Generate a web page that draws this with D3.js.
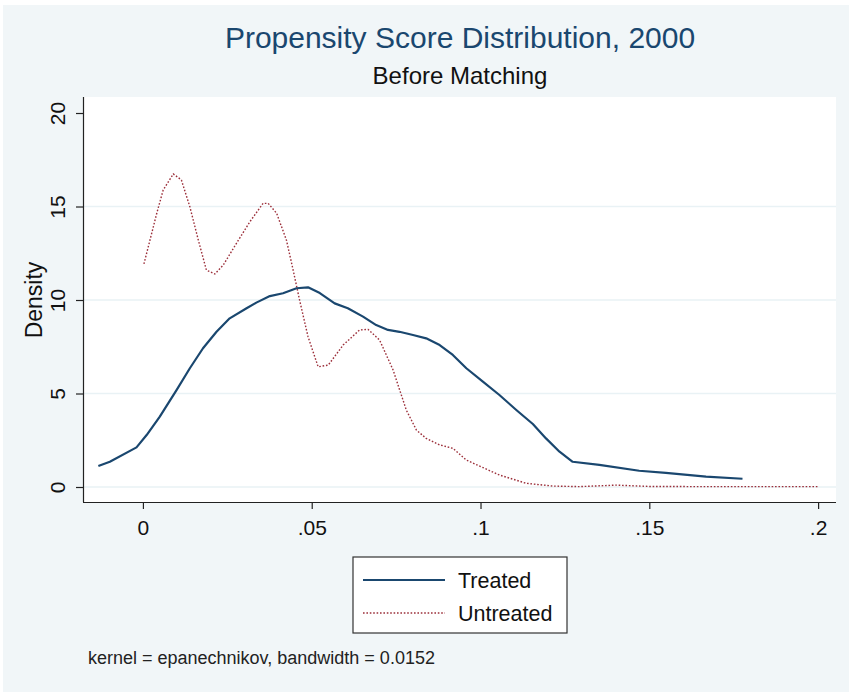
<!DOCTYPE html>
<html>
<head>
<meta charset="utf-8">
<script src="https://cdn.jsdelivr.net/npm/d3@7"></script>
<style>
  body { margin: 0; background: #fff; }
  text { font-family: "Liberation Sans", Arial, sans-serif; }
</style>
</head>
<body>
<script>
  // treated kernel density (x = propensity score, y = density)
  const treatedX = [-0.0132, -0.0098, -0.0019, 0.0011, 0.0050, 0.0100, 0.0139, 0.0178, 0.0218, 0.0257,
    0.0307, 0.0336, 0.0376, 0.0415, 0.0455, 0.0489, 0.0524, 0.0568, 0.0607, 0.0652,
    0.0691, 0.0726, 0.0760, 0.0800, 0.0839, 0.0879, 0.0918, 0.0958, 0.1007, 0.1056,
    0.1106, 0.1155, 0.1194, 0.1234, 0.1273, 0.1352, 0.1470, 0.1549, 0.1668, 0.1776];
  const treatedY = [1.12, 1.35, 2.12, 2.78, 3.76, 5.19, 6.35, 7.42, 8.30, 9.02,
    9.56, 9.86, 10.21, 10.36, 10.63, 10.68, 10.37, 9.82, 9.56, 9.11,
    8.66, 8.40, 8.30, 8.13, 7.95, 7.59, 7.06, 6.35, 5.63, 4.92,
    4.12, 3.37, 2.60, 1.89, 1.35, 1.18, 0.87, 0.76, 0.55, 0.44];

  // untreated kernel density
  const untreatedX = [0.0003, 0.0021, 0.0041, 0.0060, 0.0090, 0.0114, 0.0139, 0.0164, 0.0188, 0.0213,
    0.0238, 0.0277, 0.0317, 0.0356, 0.0371, 0.0396, 0.0425, 0.0445, 0.0464, 0.0489,
    0.0519, 0.0549, 0.0593, 0.0642, 0.0667, 0.0701, 0.0741, 0.0780, 0.0810, 0.0839,
    0.0879, 0.0918, 0.0958, 0.1056, 0.1135, 0.1214, 0.1293, 0.1401, 0.1500, 0.1650,
    0.1825, 0.2003];
  const untreatedY = [11.93, 13.21, 14.64, 15.88, 16.74, 16.42, 14.99, 13.21, 11.60, 11.39,
    11.87, 13.03, 14.19, 15.17, 15.17, 14.64, 13.21, 11.60, 10.00, 8.04,
    6.43, 6.52, 7.59, 8.40, 8.43, 7.86, 6.26, 4.12, 3.05, 2.60,
    2.25, 2.07, 1.44, 0.64, 0.20, 0.05, 0.02, 0.10, 0.03, 0.02,
    0.02, 0.02];

  const xTicks = [0, 0.05, 0.1, 0.15, 0.2];
  const xTickLabels = ['0', '.05', '.1', '.15', '.2'];
  const yTicks = [0, 5, 10, 15, 20];
  const gridTicks = [0, 5, 10, 15];
  const seriesNames = ['Treated', 'Untreated'];

  const width = 849;
  const height = 692;
  const navy = '#1a476f';
  const maroon = '#9c2f3a';

  const svg = d3.select('body')
    .append('svg')
    .attr('width', width)
    .attr('height', height);

  // outer graph region
  svg.append('rect')
    .attr('x', 3).attr('y', 5)
    .attr('width', width - 3).attr('height', height - 5)
    .attr('fill', '#f1f6f8');

  const plot = { left: 83, right: 836, top: 97, bottom: 502 };

  const x = d3.scaleLinear()
    .domain([-0.01775, 0.2053])
    .range([plot.left, plot.right]);
  const y = d3.scaleLinear()
    .domain([-0.802, 20.856])
    .range([plot.bottom, plot.top]);

  svg.append('rect')
    .attr('x', plot.left).attr('y', plot.top)
    .attr('width', plot.right - plot.left)
    .attr('height', plot.bottom - plot.top)
    .attr('fill', '#ffffff');

  // gridlines
  svg.append('g')
    .selectAll('line')
    .data(gridTicks)
    .enter()
    .append('line')
    .attr('x1', plot.left).attr('x2', plot.right)
    .attr('y1', (d) => y(d)).attr('y2', (d) => y(d))
    .style('stroke', '#e9f2f5')
    .style('stroke-width', 1.6);

  // axes
  const xAxis = svg.append('g')
    .attr('transform', `translate(0, ${plot.bottom})`)
    .call(d3.axisBottom(x).tickValues(xTicks)
      .tickFormat((d, i) => xTickLabels[i]).tickSize(7).tickSizeOuter(0));
  xAxis.select('.domain').attr('d', `M${plot.left},0.5H${plot.right}`);
  xAxis.selectAll('text')
    .attr('dy', 0).attr('y', 33)
    .style('font-size', '21px')
    .style('fill', '#111');

  const yAxis = svg.append('g')
    .attr('transform', `translate(${plot.left}, 0)`)
    .call(d3.axisLeft(y).tickValues(yTicks).tickSize(7).tickSizeOuter(0));
  yAxis.select('.domain').attr('d', `M0.5,${plot.top}V${plot.bottom}`);
  yAxis.selectAll('.tick text')
    .attr('x', 0).attr('y', 0).attr('dy', 0)
    .attr('text-anchor', 'middle')
    .attr('transform', 'translate(-18, 0) rotate(-90)')
    .style('font-size', '21px')
    .style('fill', '#111');
  svg.selectAll('.domain, .tick line')
    .style('stroke', '#222')
    .style('stroke-width', 1.2);

  svg.append('text')
    .attr('transform', `translate(42, 300) rotate(-90)`)
    .attr('text-anchor', 'middle')
    .style('font-size', '23px')
    .style('fill', '#111')
    .text('Density');

  // density lines
  const line = d3.line()
    .x((d) => x(d[0]))
    .y((d) => y(d[1]));

  svg.append('path')
    .datum(d3.zip(untreatedX, untreatedY))
    .attr('d', line)
    .style('fill', 'none')
    .style('stroke', maroon)
    .style('stroke-width', 1.4)
    .style('stroke-dasharray', '1.6,1.8');

  svg.append('path')
    .datum(d3.zip(treatedX, treatedY))
    .attr('d', line)
    .style('fill', 'none')
    .style('stroke', navy)
    .style('stroke-width', 2.2)
    .style('stroke-linejoin', 'round');

  // titles
  svg.append('text')
    .attr('x', 460).attr('y', 48)
    .attr('text-anchor', 'middle')
    .style('font-size', '30px')
    .style('fill', navy)
    .text('Propensity Score Distribution, 2000');
  svg.append('text')
    .attr('x', 460).attr('y', 84)
    .attr('text-anchor', 'middle')
    .style('font-size', '24px')
    .style('fill', '#111')
    .text('Before Matching');

  // legend
  const legend = svg.append('g').attr('transform', 'translate(353, 557)');
  legend.append('rect')
    .attr('width', 214).attr('height', 76)
    .attr('fill', '#fff')
    .style('stroke', '#333')
    .style('stroke-width', 1.2);
  const legendRows = legend.selectAll('g.row')
    .data(seriesNames)
    .enter()
    .append('g')
    .attr('class', 'row')
    .attr('transform', (d, i) => `translate(0, ${23 + i * 33})`);
  legendRows.append('line')
    .attr('x1', 10).attr('x2', 92)
    .style('stroke', (d, i) => (i === 0 ? navy : maroon))
    .style('stroke-width', (d, i) => (i === 0 ? 2.2 : 1.4))
    .style('stroke-dasharray', (d, i) => (i === 0 ? null : '1.6,1.8'));
  legendRows.append('text')
    .attr('x', 105).attr('y', 8)
    .style('font-size', '21.5px')
    .style('fill', '#111')
    .text((d) => d);

  svg.append('text')
    .attr('x', 88).attr('y', 664)
    .style('font-size', '18px')
    .style('fill', '#222')
    .text('kernel = epanechnikov, bandwidth = 0.0152');
</script>
</body>
</html>
